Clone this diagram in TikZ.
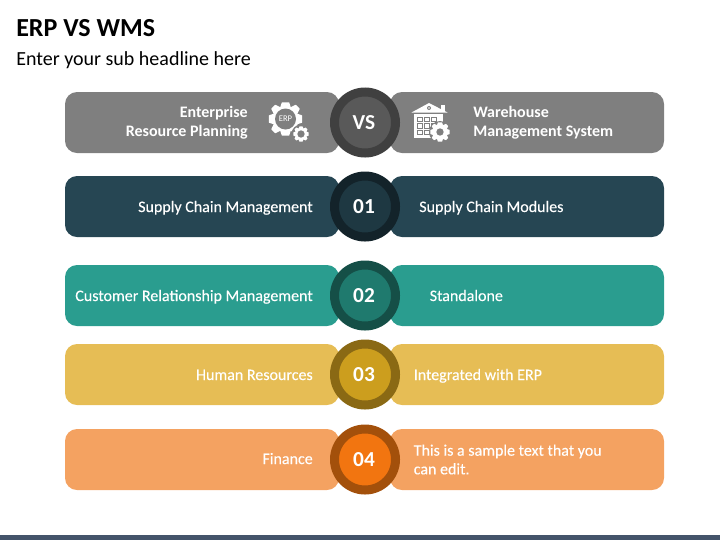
\documentclass[tikz,border=0pt]{standalone}
\usepackage{fontspec}
\setmainfont{Carlito}
\newfontfamily\medfont[FakeBold=0.2]{Carlito}
\definecolor{gA}{HTML}{7F7F7F}\definecolor{gB}{HTML}{404040}\definecolor{gC}{HTML}{595959}
\definecolor{nA}{HTML}{264653}\definecolor{nB}{HTML}{13232A}\definecolor{nC}{HTML}{1E3842}
\definecolor{tA}{HTML}{2A9D8F}\definecolor{tB}{HTML}{154F47}\definecolor{tC}{HTML}{1F7A6E}
\definecolor{yA}{HTML}{E6BD55}\definecolor{yB}{HTML}{8A6914}\definecolor{yC}{HTML}{CC9E1E}
\definecolor{oA}{HTML}{F4A261}\definecolor{oB}{HTML}{A3500B}\definecolor{oC}{HTML}{F27510}
\definecolor{barc}{HTML}{44546A}
\tikzset{
 px/.style={x=0.75pt,y=-0.75pt},
 rowbar/.style={rounded corners=9pt,inner sep=0pt,minimum width=205.5pt,minimum height=45.75pt,draw=none},
 ring/.style={circle,inner sep=0pt,minimum size=45.75pt,line width=6.75pt},
 lab/.style={text=white,font=\medfont\fontsize{12pt}{14pt}\selectfont,inner sep=0pt,anchor=base west},
 labr/.style={text=white,font=\medfont\fontsize{12pt}{14pt}\selectfont,inner sep=0pt,anchor=base east},
 bold/.style={text=white,font=\bfseries\fontsize{12pt}{14pt}\selectfont,inner sep=0pt},
 num/.style={text=white,font=\bfseries\fontsize{16pt}{18pt}\selectfont},
}
\newcommand{\gearshape}[5]{% x y outer inner colour
 \fill[#5,even odd rule] plot[smooth cycle,tension=0.15] coordinates {
  (#1+#3,#2-#3*0.22)(#1+#3,#2+#3*0.22)(#1+#3*0.72,#2+#3*0.32)(#1+#3*0.86,#2+#3*0.62)(#1+#3*0.62,#2+#3*0.86)(#1+#3*0.32,#2+#3*0.72)
  (#1+#3*0.22,#2+#3)(#1-#3*0.22,#2+#3)(#1-#3*0.32,#2+#3*0.72)(#1-#3*0.62,#2+#3*0.86)(#1-#3*0.86,#2+#3*0.62)(#1-#3*0.72,#2+#3*0.32)
  (#1-#3,#2+#3*0.22)(#1-#3,#2-#3*0.22)(#1-#3*0.72,#2-#3*0.32)(#1-#3*0.86,#2-#3*0.62)(#1-#3*0.62,#2-#3*0.86)(#1-#3*0.32,#2-#3*0.72)
  (#1-#3*0.22,#2-#3)(#1+#3*0.22,#2-#3)(#1+#3*0.32,#2-#3*0.72)(#1+#3*0.62,#2-#3*0.86)(#1+#3*0.86,#2-#3*0.62)(#1+#3*0.72,#2-#3*0.32)
 } (#1,#2) circle[radius=#4];
}
\begin{document}
\begin{tikzpicture}[px]
\useasboundingbox (0,0) rectangle (720,540);
\fill[barc] (0,535) rectangle (720,540);
\node[anchor=west,inner sep=0pt,font=\bfseries\fontsize{19.5pt}{22pt}\selectfont] (title) at (16,28.5) {ERP VS WMS};
\node[anchor=west,inner sep=0pt,font=\fontsize{15pt}{18pt}\selectfont] (sub) at (16,60.5) {Enter your sub headline here};
\foreach \nm/\y/\ca/\cb/\cc/\t in {v/122.5/gA/gB/gC/VS,a/206.5/nA/nB/nC/01,b/295.5/tA/tB/tC/02,c/374.5/yA/yB/yC/03,d/459.5/oA/oB/oC/04}{
 \node[rowbar,fill=\ca] (\nm L) at (202,\y) {};
 \node[rowbar,fill=\ca] (\nm R) at (527,\y) {};
 \node[ring,draw=\cb,fill=\cc] (\nm C) at (365,\y) {};
 \node[num] (\nm N) at (364,\y) {\t};
}
\node[bold,anchor=east,align=right] (t1) at (248,123) {Enterprise\\Resource Planning};
\node[bold,anchor=west,align=left] (t2) at (473,123) {Warehouse\\Management System};
\node[labr] (a1) at (313,212) {Supply Chain Management};
\node[lab] (a2) at (419,212) {Supply Chain Modules};
\node[labr] (b1) at (313,301) {Customer Relationship Management};
\node[lab] (b2) at (429.5,301) {Standalone};
\node[labr] (c1) at (313,380) {Human Resources};
\node[lab] (c2) at (413.5,380) {Integrated with ERP};
\node[labr] (d1) at (313,464) {Finance};
\node[text=white,font=\medfont\fontsize{12pt}{14pt}\selectfont,inner sep=0pt,anchor=west,align=left] (d2) at (413.5,459.5) {This is a sample text that you\\can edit.};
% ERP icon
\gearshape{285.5}{119}{16.5}{0}{white}
\fill[gA] (285.5,119) circle[radius=10.5];
\node[text=white,inner sep=0pt,font=\fontsize{6.5pt}{7pt}\selectfont] (erp) at (285.5,119) {ERP};
\fill[gA] (301,134) circle[radius=9.5];
\gearshape{301}{134}{7.5}{3.8}{white}
% WMS icon
\fill[white] (411.5,112.5) -- (429,103) -- (447.5,112.5) -- cycle;
\fill[white] (441,105) rectangle (445,111);
\fill[gA] (429,108) circle[radius=2];
\fill[white] (429,108) circle[radius=0.9];
\fill[white] (414,114) rectangle (443,138);
\foreach \i in {0,1,2}\foreach \j in {0,1,2}{\draw[gA,line width=0.7pt] (417+7*\i,117+6.5*\j) rectangle +(5.5,4.5);}
\fill[gA] (440,132) circle[radius=11];
\gearshape{440}{132}{9.5}{3.8}{white}
\end{tikzpicture}
\end{document}
